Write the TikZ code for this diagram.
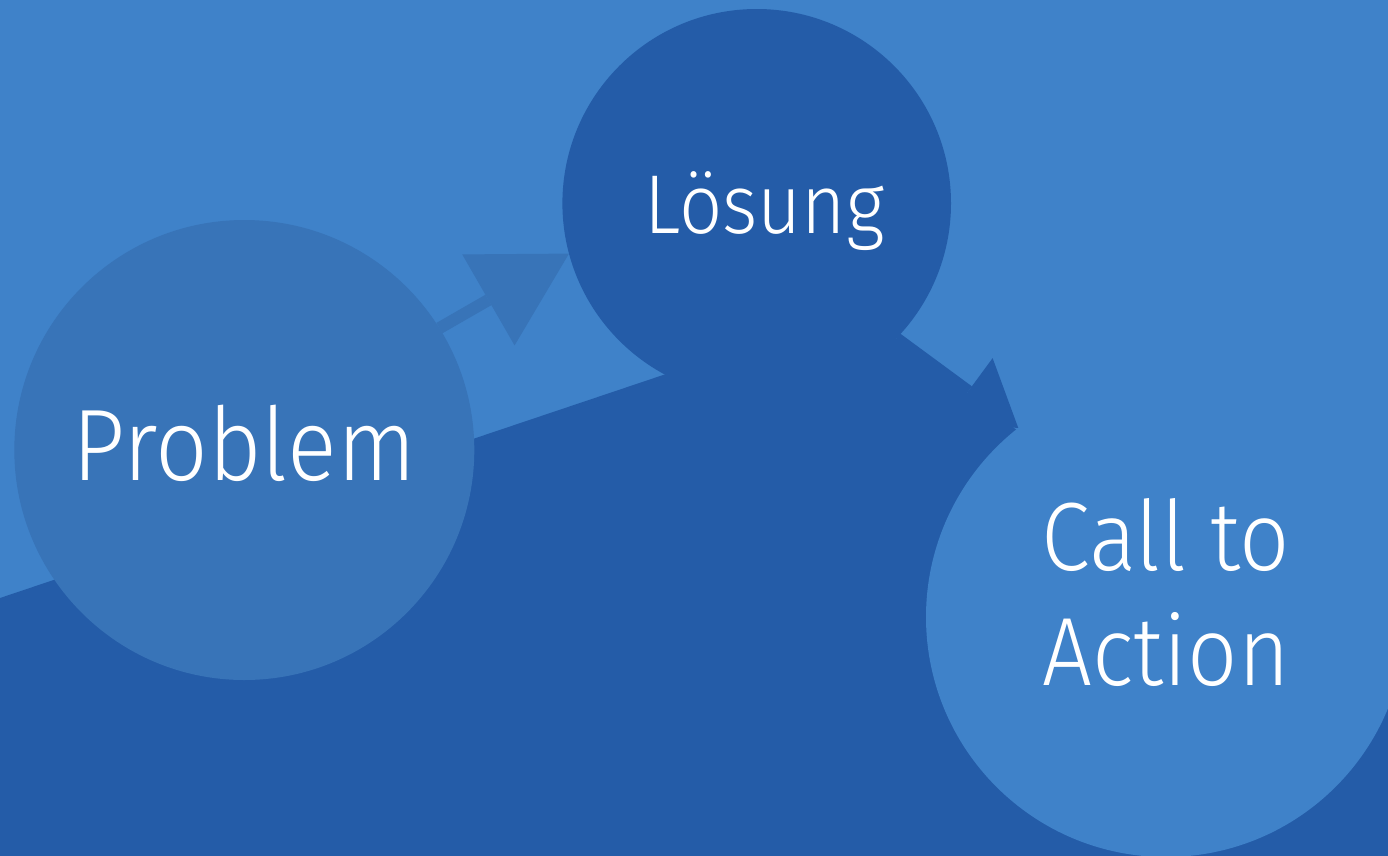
\documentclass[tikz,border=0pt]{standalone}
\usepackage{fontspec}
\setmainfont{Fira Sans}[UprightFont={* Light}, FakeStretch=0.91]
\usetikzlibrary{arrows.meta}

\definecolor{skyblue}{HTML}{3F82C9}
\definecolor{deepblue}{HTML}{245CA8}
\definecolor{midblue}{HTML}{3874B8}

\tikzset{
  bubble/.style={circle, inner sep=0pt, outer sep=0pt, text=white, align=center},
  link/.style n args={3}{line width=12pt, draw=#1,
    -{Triangle[length=#2 0 0, width=#3 0 0, line width=0pt 0 0]}}
}

\begin{document}
\begin{tikzpicture}[x=1pt,y=-1pt]
\useasboundingbox (0,0) rectangle (1388,855);
\clip (0,0) rectangle (1388,855);
\fill[skyblue] (0,0) rectangle (1388,855);
\fill[deepblue] (0,598) -- (700,362.6) -- (850,305) -- (1022,434) -- (1388,650)
  -- (1388,856) -- (0,856) -- cycle;
\node[bubble, fill=midblue, minimum size=460pt, text height=61pt, text depth=0pt,
  font=\fontsize{101.6}{115}\selectfont] (problem) at (244.3,450) {Problem};
\node[bubble, fill=deepblue, minimum size=388.6pt, text height=60pt, text depth=0pt,
  font=\fontsize{83.5}{100}\selectfont] (loesung) at (756.7,203.3) {\hspace*{16pt}Lösung};
\node[bubble, fill=skyblue, minimum size=480pt, text depth=50pt,
  font=\fontsize{97}{115}\selectfont] (cta) at (1166,617) {Call to\\Action};
\draw[link={midblue}{93pt}{105pt}] (problem.32.5) -- (loesung.195);
\draw[link={deepblue}{62pt}{82pt}] (loesung.-44) -- (cta.128);
\end{tikzpicture}
\end{document}
